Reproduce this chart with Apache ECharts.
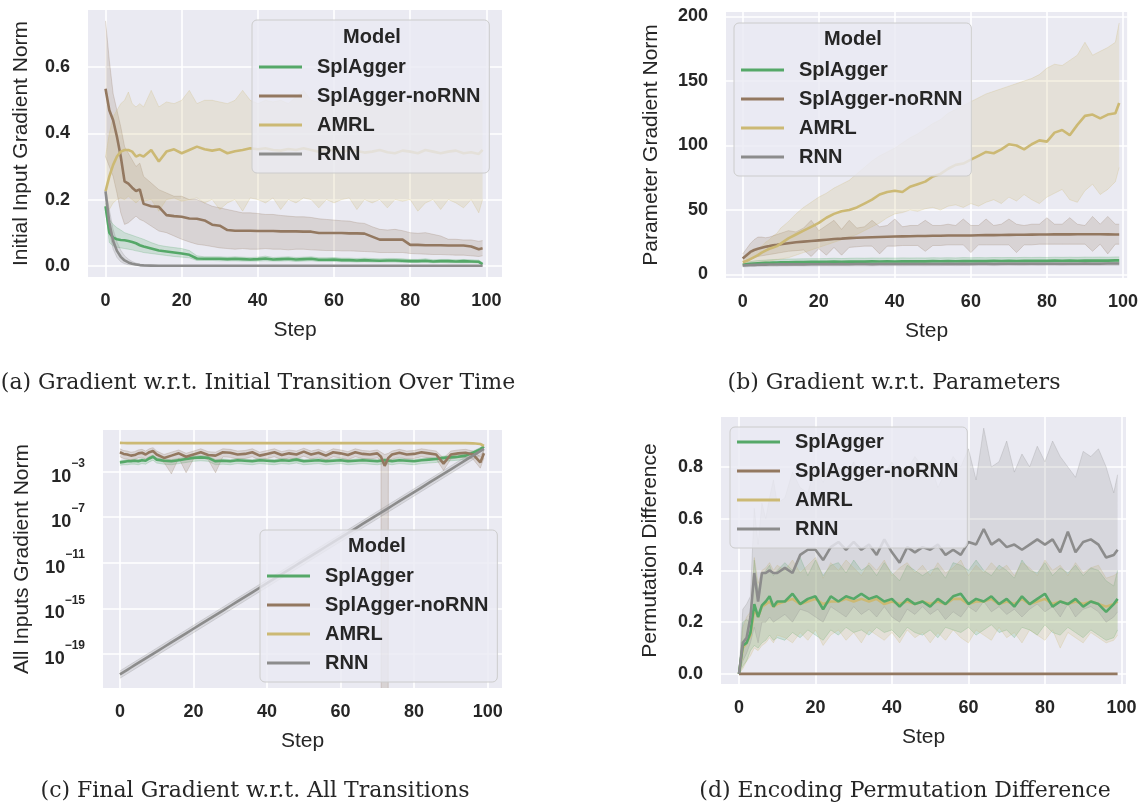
<!DOCTYPE html>
<html>
<head>
<meta charset="utf-8">
<script src="https://cdn.jsdelivr.net/npm/echarts@6/dist/echarts.min.js"></script>
<style>
  html, body { margin: 0; padding: 0; background: #fff; }
  #chart { width: 1141px; height: 805px; }
</style>
</head>
<body>
<div id="chart"></div>
<script>
// steps sampled for panels a, b, d
const steps = [0,1,2,3,4,5,6,7,8,9,10,12,14,16,18,20,22,24,26,28,30,32,34,36,38,40,42,44,46,48,50,
  52,54,56,58,60,62,64,66,68,70,72,74,76,78,80,82,84,86,88,90,92,94,96,98,99];
// panel c keeps 71 and 73 for the spike
const stepsC = [0,1,2,3,4,5,6,7,8,9,10,12,14,16,18,20,22,24,26,28,30,32,34,36,38,40,42,44,46,48,50,
  52,54,56,58,60,62,64,66,68,70,71,72,73,74,76,78,80,82,84,86,88,90,92,94,96,98,99];

const models = ['SplAgger', 'SplAgger-noRNN', 'AMRL', 'RNN'];

// (a) initial input gradient norm
const aGreen = [0.18,0.10,0.085,0.08,0.078,0.077,0.075,0.072,0.068,0.062,0.058,
  0.052,0.046,0.043,0.040,0.037,0.033,0.022,0.021,0.021,0.021,0.020,0.021,0.020,0.019,0.020,0.022,0.019,0.020,0.021,0.019,
  0.020,0.021,0.018,0.018,0.019,0.017,0.017,0.016,0.017,0.016,0.015,0.016,0.016,0.015,0.014,0.014,0.015,0.013,0.014,0.014,0.013,0.014,0.013,0.012,0.005];
const aGreenLo = [0.17,0.07,0.06,0.056,0.054,0.052,0.05,0.048,0.045,0.043,0.04,
  0.037,0.034,0.031,0.028,0.026,0.024,0.016,0.016,0.016,0.015,0.015,0.015,0.014,0.014,0.014,0.015,0.014,0.014,0.015,0.013,
  0.014,0.015,0.013,0.013,0.013,0.012,0.012,0.011,0.012,0.011,0.011,0.011,0.011,0.010,0.010,0.010,0.010,0.009,0.010,0.009,0.009,0.009,0.009,0.008,0.002];
const aGreenHi = [0.19,0.14,0.125,0.115,0.108,0.1,0.096,0.092,0.088,0.084,0.08,
  0.07,0.062,0.058,0.055,0.052,0.046,0.03,0.027,0.027,0.027,0.026,0.027,0.026,0.025,0.026,0.029,0.025,0.026,0.027,0.025,
  0.026,0.027,0.024,0.024,0.025,0.023,0.023,0.022,0.023,0.022,0.021,0.022,0.022,0.021,0.019,0.019,0.021,0.018,0.019,0.019,0.018,0.019,0.018,0.017,0.009];
const aBrown = [0.535,0.47,0.44,0.39,0.33,0.255,0.248,0.236,0.226,0.231,0.187,
  0.18,0.178,0.153,0.15,0.148,0.143,0.142,0.137,0.124,0.121,0.108,0.106,0.106,0.106,0.105,0.105,0.105,0.104,0.104,0.104,
  0.103,0.103,0.099,0.099,0.099,0.099,0.098,0.098,0.097,0.088,0.079,0.079,0.079,0.079,0.063,0.063,0.062,0.062,0.062,0.061,0.061,0.061,0.058,0.05,0.053];
const aBrownHi = [0.74,0.62,0.52,0.47,0.42,0.36,0.34,0.32,0.3,0.31,0.27,
  0.25,0.23,0.22,0.21,0.21,0.2,0.2,0.19,0.18,0.175,0.17,0.165,0.16,0.16,0.158,0.155,0.155,0.152,0.15,0.148,
  0.148,0.146,0.142,0.14,0.138,0.136,0.135,0.13,0.128,0.118,0.11,0.108,0.11,0.106,0.1,0.098,0.1,0.095,0.09,0.08,0.08,0.078,0.078,0.074,0.076];
const aBrownLo = [0.33,0.3,0.27,0.22,0.16,0.125,0.13,0.14,0.15,0.14,0.135,
  0.12,0.105,0.1,0.09,0.08,0.072,0.065,0.062,0.058,0.054,0.052,0.05,0.052,0.05,0.05,0.052,0.05,0.05,0.048,0.05,
  0.05,0.048,0.047,0.046,0.046,0.045,0.045,0.044,0.043,0.042,0.04,0.04,0.04,0.04,0.037,0.036,0.035,0.034,0.034,0.033,0.032,0.032,0.03,0.028,0.03];
const aAmrl = [0.225,0.27,0.305,0.33,0.345,0.35,0.35,0.345,0.33,0.335,0.33,
  0.35,0.315,0.345,0.352,0.34,0.35,0.36,0.352,0.348,0.352,0.34,0.346,0.35,0.355,0.352,0.355,0.35,0.348,0.353,0.35,
  0.355,0.35,0.345,0.352,0.348,0.343,0.35,0.347,0.342,0.345,0.35,0.343,0.34,0.348,0.345,0.34,0.35,0.345,0.34,0.345,0.348,0.34,0.343,0.338,0.35];
const aAmrlHi = [0.33,0.4,0.45,0.47,0.49,0.5,0.525,0.49,0.48,0.49,0.48,
  0.53,0.48,0.495,0.49,0.5,0.53,0.49,0.5,0.5,0.495,0.49,0.5,0.53,0.5,0.49,0.5,0.495,0.5,0.49,0.51,
  0.53,0.5,0.495,0.49,0.5,0.495,0.5,0.49,0.5,0.495,0.5,0.51,0.49,0.5,0.49,0.5,0.495,0.5,0.49,0.5,0.495,0.5,0.49,0.495,0.5];
const aAmrlLo = [0.16,0.17,0.19,0.2,0.205,0.2,0.21,0.2,0.19,0.2,0.195,
  0.2,0.165,0.2,0.205,0.195,0.2,0.205,0.19,0.2,0.17,0.19,0.2,0.165,0.205,0.2,0.19,0.205,0.17,0.2,0.19,
  0.205,0.2,0.175,0.2,0.19,0.2,0.205,0.17,0.2,0.19,0.2,0.175,0.2,0.195,0.2,0.165,0.19,0.2,0.17,0.2,0.19,0.175,0.2,0.16,0.2];
const aRnn = [0.225,0.13,0.075,0.045,0.027,0.016,0.01,0.006,0.004,0.002,0.001,
  0.0005,0,0,0,0,0,0,0,0,0,0,0,0,0,0,0,0,0,0,0,
  0,0,0,0,0,0,0,0,0,0,0,0,0,0,0,0,0,0,0,0,0,0,0,0,0];
const aRnnHi = [0.235,0.17,0.11,0.072,0.047,0.03,0.02,0.013,0.008,0.005,0.003,
  0.001,0,0,0,0,0,0,0,0,0,0,0,0,0,0,0,0,0,0,0,
  0,0,0,0,0,0,0,0,0,0,0,0,0,0,0,0,0,0,0,0,0,0,0,0,0];
const aRnnLo = [0.215,0.1,0.05,0.025,0.012,0.006,0.003,0.002,0.001,0,0,
  0,0,0,0,0,0,0,0,0,0,0,0,0,0,0,0,0,0,0,0,
  0,0,0,0,0,0,0,0,0,0,0,0,0,0,0,0,0,0,0,0,0,0,0,0,0];

// (b) parameter gradient norm
const bGreen = [7.5,8,8.3,8.5,8.7,8.9,9,9.1,9.2,9.3,9.4,
  9.5,9.6,9.7,9.8,9.8,9.9,10,9.9,10,10.1,10,10.2,10.1,10.2,10.1,10.3,10.2,10.3,10.2,10.4,
  10.3,10.4,10.3,10.5,10.4,10.5,10.4,10.6,10.5,10.6,10.5,10.7,10.6,10.7,10.6,10.8,10.7,10.8,10.7,10.9,10.8,10.9,10.8,11,11];
const bGreenHi = [8.5,9.5,10,10.5,10.8,11,11.2,11.4,11.6,11.7,11.8,
  12,12.1,12.2,12.3,12.3,12.4,12.6,12.4,12.6,12.7,12.6,12.8,12.7,12.8,12.7,12.9,12.8,12.9,12.8,13,
  12.9,13,12.9,13.1,13,13.1,13,13.2,13.1,13.2,13.1,13.3,13.2,13.3,13.2,13.4,13.3,13.4,13.3,13.5,13.4,13.5,13.4,13.6,13.6];
const bGreenLo = [6.5,6.6,6.8,6.9,7,7.1,7.2,7.3,7.3,7.4,7.5,
  7.5,7.6,7.7,7.7,7.8,7.8,7.9,7.8,7.9,8,7.9,8,8,8.1,8,8.1,8.1,8.2,8.1,8.2,
  8.2,8.3,8.2,8.3,8.3,8.4,8.3,8.4,8.4,8.5,8.4,8.5,8.5,8.6,8.5,8.6,8.6,8.7,8.6,8.7,8.7,8.8,8.7,8.8,8.8];
const bBrown = [12.5,15,17.5,19,20,20.8,21.5,22,22.6,23,23.5,
  24.3,25,25.5,26,26.5,27,27.5,27.8,28.2,28.5,28.7,28.9,29.1,29.3,29.5,29.6,29.7,29.8,29.9,30,
  30.1,30.2,30.2,30.3,30.3,30.4,30.5,30.5,30.6,30.7,30.8,30.8,30.9,31,31,31.1,31.1,31.1,31.2,31.2,31.2,31.2,31.1,31,31];
const bBrownHi = [16,20,24,27,29,29,28.5,29,30,31,32,
  34,33,36,42,34,38,42,35,42,36,37,42,37,38,43,37,38,38,42,38,
  38,39,38,43,38,38,43,38,39,43,39,38,39,39,44,39,39,44,39,38,45,39,45,39,39];
const bBrownLo = [10,11,12,13,14,14.5,15,15.5,16,16.5,17,
  18,18.5,19,14,20,15,21,15,21,21.5,22,22,16,22,22,22.5,22.5,22.5,18,22.5,
  22.5,23,23,23,17,23,23,23,23,23,17,23,23,23.5,23.5,23.5,23.5,23.5,23.5,23.5,18,23.5,16,23.5,23.5];
const bAmrl = [9.5,10.5,12,13.5,15,17,18.5,20,21,22,24,
  28,31,34,37,40,44,47,49,50,52,55,58,62,64,65,64,68,70,72,76,
  78,82,85,86,89,92,95,94,97,101,100,97,101,104,103,110,112,108,116,123,124,121,124,125,133];
const bAmrlHi = [13,14,16,18,20,22,25,27,30,32,36,
  41,47,52,56,60,63,67,70,73,78,83,88,92,95,98,102,106,109,113,117,
  120,125,128,131,134,137,140,142,144,146,148,150,152,155,160,163,162,166,170,180,170,173,176,180,195];
const bAmrlLo = [7,7.5,8,8.5,9,9.5,10,10.5,11,11.5,12,
  13,15,17,19,21,23,25,27,29,31,34,37,40,44,47,48,50,49,51,52,
  50,53,54,52,55,53,56,58,55,60,57,62,58,55,60,63,66,58,56,65,70,62,66,72,83];
const bRnn = [7,7.2,7.4,7.5,7.6,7.7,7.7,7.8,7.8,7.8,7.9,
  7.9,8,7.9,8,8,8.1,8,8.1,8,8.1,8.1,8,8.2,8.1,8.2,8.1,8.2,8.2,8.1,8.2,
  8.2,8.3,8.2,8.3,8.2,8.3,8.3,8.2,8.3,8.4,8.3,8.3,8.4,8.3,8.4,8.4,8.3,8.4,8.4,8.5,8.4,8.4,8.5,8.5,8.5];
const bRnnHi = [8,8.4,8.6,8.8,8.9,9,9,9.1,9.1,9.1,9.2,
  9.2,9.3,9.2,9.3,9.3,9.4,9.3,9.4,9.3,9.4,9.4,9.3,9.5,9.4,9.5,9.4,9.5,9.5,9.4,9.5,
  9.5,9.6,9.5,9.6,9.5,9.6,9.6,9.5,9.6,9.7,9.6,9.6,9.7,9.6,9.7,9.7,9.6,9.7,9.7,9.8,9.7,9.7,9.8,9.8,9.8];
const bRnnLo = [6,6,6.2,6.2,6.3,6.4,6.4,6.5,6.5,6.5,6.6,
  6.6,6.7,6.6,6.7,6.7,6.8,6.7,6.8,6.7,6.8,6.8,6.7,6.9,6.8,6.9,6.8,6.9,6.9,6.8,6.9,
  6.9,7,6.9,7,6.9,7,7,6.9,7,7.1,7,7,7.1,7,7.1,7.1,7,7.1,7.1,7.2,7.1,7.1,7.2,7.2,7.2];

// (c) all inputs gradient norm, stored as log10 exponents
const cGreen = [-2.2,-2.15,-2.1,-2.1,-2.05,-2.1,-2.0,-2.05,-1.85,-1.7,-1.95,
  -2.05,-2.1,-2.0,-1.9,-1.8,-1.75,-1.8,-2.1,-2.05,-2.1,-2.0,-2.05,-2.1,-2.0,-2.05,-2.1,-2.0,-2.05,-1.95,-2.1,
  -2.05,-2.0,-2.1,-2.05,-2.0,-2.1,-2.05,-2.0,-2.05,-2.1,
  -2.05,-2.0,-2.05,
  -2.1,-2.0,-2.05,-2.1,-2.0,-1.95,-1.9,-1.8,-1.75,-1.7,-1.6,-1.35,-1.05,-0.8];
const cGreenHi = [-2.05,-2.0,-1.95,-1.95,-1.9,-1.95,-1.85,-1.9,-1.7,-1.55,-1.8,
  -1.9,-1.95,-1.85,-1.75,-1.65,-1.6,-1.65,-1.95,-1.9,-1.95,-1.85,-1.9,-1.95,-1.85,-1.9,-1.95,-1.85,-1.9,-1.8,-1.95,
  -1.9,-1.85,-1.95,-1.9,-1.85,-1.95,-1.9,-1.85,-1.9,-1.95,
  -1.9,-1.85,-1.9,
  -1.95,-1.85,-1.9,-1.95,-1.85,-1.8,-1.75,-1.65,-1.6,-1.55,-1.45,-1.2,-0.9,-0.7];
const cGreenLo = [-2.45,-2.4,-2.4,-2.35,-2.35,-2.4,-2.3,-2.35,-2.15,-2.0,-2.25,
  -2.35,-2.4,-2.3,-2.2,-2.1,-2.05,-2.1,-2.4,-2.35,-2.4,-2.3,-2.35,-2.4,-2.3,-2.35,-2.4,-2.3,-2.35,-2.25,-2.4,
  -2.35,-2.3,-2.4,-2.35,-2.3,-2.4,-2.35,-2.3,-2.35,-2.4,
  -2.35,-2.3,-2.35,
  -2.4,-2.3,-2.35,-2.4,-2.3,-2.25,-2.2,-2.1,-2.05,-2.0,-1.9,-1.6,-1.25,-0.95];
const cBrown = [-1.3,-1.45,-1.5,-1.6,-1.55,-1.4,-1.35,-1.5,-1.3,-1.2,-1.5,
  -1.8,-1.6,-1.4,-1.7,-1.5,-1.3,-1.55,-1.6,-1.3,-1.35,-1.5,-1.45,-1.3,-1.6,-1.45,-1.3,-1.55,-1.4,-1.5,-1.25,
  -1.5,-1.35,-1.6,-1.3,-1.4,-1.55,-1.3,-1.45,-1.5,-1.4,
  -1.7,-2.5,-1.8,
  -1.5,-1.35,-1.5,-1.45,-1.3,-1.4,-1.5,-2.3,-1.5,-1.4,-1.35,-1.5,-2.2,-1.4];
const cBrownHi = [-1.0,-1.15,-1.2,-1.3,-1.25,-1.1,-1.05,-1.2,-1.0,-0.9,-1.2,
  -1.5,-1.3,-1.1,-1.4,-1.2,-1.0,-1.25,-1.3,-1.0,-1.05,-1.2,-1.15,-1.0,-1.3,-1.15,-1.0,-1.25,-1.1,-1.2,-0.95,
  -1.2,-1.05,-1.3,-1.0,-1.1,-1.25,-1.0,-1.15,-1.2,-1.1,
  -1.3,-1.5,-1.4,
  -1.2,-1.05,-1.2,-1.15,-1.0,-1.1,-1.2,-1.8,-1.2,-1.1,-1.05,-1.2,-1.7,-1.1];
// lower bound collapses to ~0 at step 72 (log goes far below the axis)
const cBrownLo = [-1.7,-1.85,-1.9,-2.0,-1.95,-1.8,-1.75,-1.9,-1.7,-1.6,-1.9,
  -2.2,-3.2,-1.8,-3.1,-1.9,-1.7,-1.95,-3.1,-1.7,-1.75,-1.9,-1.85,-1.7,-2.0,-1.85,-1.7,-1.95,-1.8,-1.9,-1.65,
  -1.9,-1.75,-2.0,-1.7,-1.8,-1.95,-1.7,-1.85,-1.9,-1.8,
  -2.0,-500,-2.1,
  -1.9,-1.75,-1.9,-1.85,-1.7,-1.8,-1.9,-2.9,-1.9,-1.8,-1.75,-1.9,-2.7,-1.8];
const cAmrl = [-0.48,-0.49,-0.5,-0.5,-0.5,-0.5,-0.5,-0.5,-0.5,-0.5,-0.5,
  -0.5,-0.5,-0.5,-0.5,-0.5,-0.5,-0.5,-0.5,-0.5,-0.5,-0.5,-0.5,-0.5,-0.5,-0.5,-0.5,-0.5,-0.5,-0.5,-0.5,
  -0.5,-0.5,-0.5,-0.5,-0.5,-0.5,-0.5,-0.5,-0.5,-0.5,
  -0.5,-0.5,-0.5,
  -0.5,-0.5,-0.5,-0.5,-0.5,-0.5,-0.5,-0.5,-0.5,-0.5,-0.5,-0.52,-0.58,-0.75];
const cRnn = [-20.8,-20.6,-20.4,-20.2,-20.0,-19.8,-19.6,-19.4,-19.2,-19.0,-18.8,
  -18.4,-18.0,-17.6,-17.2,-16.8,-16.4,-16.0,-15.6,-15.2,-14.8,-14.4,-14.0,-13.6,-13.2,-12.8,-12.4,-12.0,-11.6,-11.2,-10.8,
  -10.4,-10.0,-9.6,-9.2,-8.8,-8.4,-8.0,-7.6,-7.2,-6.8,
  -6.6,-6.4,-6.2,
  -6.0,-5.6,-5.2,-4.8,-4.4,-4.0,-3.6,-3.2,-2.8,-2.4,-2.0,-1.6,-1.2,-1.0];
const cRnnHi = [-20.5,-20.3,-20.1,-19.9,-19.7,-19.5,-19.3,-19.1,-18.9,-18.7,-18.5,
  -18.1,-17.7,-17.3,-16.9,-16.5,-16.1,-15.7,-15.3,-14.9,-14.5,-14.1,-13.7,-13.3,-12.9,-12.5,-12.1,-11.7,-11.3,-10.9,-10.5,
  -10.1,-9.7,-9.3,-8.9,-8.5,-8.1,-7.7,-7.3,-6.9,-6.5,
  -6.3,-6.1,-5.9,
  -5.7,-5.3,-4.9,-4.5,-4.1,-3.7,-3.3,-2.9,-2.5,-2.1,-1.7,-1.3,-0.9,-0.75];
const cRnnLo = [-21.15,-20.95,-20.75,-20.55,-20.35,-20.15,-19.95,-19.75,-19.55,-19.35,-19.15,
  -18.75,-18.35,-17.95,-17.55,-17.15,-16.75,-16.35,-15.95,-15.55,-15.15,-14.75,-14.35,-13.95,-13.55,-13.15,-12.75,-12.35,-11.95,-11.55,-11.15,
  -10.75,-10.35,-9.95,-9.55,-9.15,-8.75,-8.35,-7.95,-7.55,-7.15,
  -6.95,-6.75,-6.55,
  -6.35,-5.95,-5.55,-5.15,-4.75,-4.35,-3.95,-3.55,-3.15,-2.75,-2.35,-1.95,-1.55,-1.3];

// (d) permutation difference
const dGreen = [0,0.11,0.12,0.16,0.27,0.22,0.265,0.28,0.3,0.26,0.28,
  0.28,0.31,0.27,0.29,0.3,0.25,0.3,0.28,0.3,0.29,0.31,0.29,0.3,0.28,0.29,0.26,0.29,0.27,0.28,0.26,
  0.29,0.27,0.3,0.31,0.27,0.29,0.28,0.3,0.27,0.29,0.26,0.3,0.27,0.29,0.31,0.26,0.28,0.27,0.29,0.26,0.28,0.27,0.24,0.27,0.29];
const dGreenHi = [0,0.2,0.21,0.2,0.44,0.32,0.38,0.4,0.42,0.38,0.4,
  0.43,0.4,0.45,0.38,0.44,0.38,0.42,0.43,0.39,0.44,0.4,0.42,0.38,0.43,0.39,0.36,0.42,0.4,0.38,0.4,
  0.41,0.37,0.43,0.42,0.4,0.44,0.4,0.38,0.42,0.4,0.37,0.44,0.4,0.39,0.43,0.38,0.41,0.39,0.42,0.38,0.41,0.4,0.36,0.34,0.4];
const dGreenLo = [0,0.03,0.05,0.09,0.11,0.1,0.12,0.13,0.15,0.13,0.14,
  0.13,0.16,0.14,0.17,0.15,0.13,0.17,0.15,0.18,0.16,0.17,0.15,0.18,0.16,0.17,0.14,0.18,0.16,0.15,0.17,
  0.14,0.18,0.17,0.16,0.18,0.15,0.17,0.19,0.16,0.17,0.14,0.18,0.17,0.15,0.19,0.16,0.15,0.18,0.16,0.14,0.17,0.15,0.13,0.14,0.17];
const dBrown = [0,0,0,0,0,0,0,0,0,0,0,
  0,0,0,0,0,0,0,0,0,0,0,0,0,0,0,0,0,0,0,0,
  0,0,0,0,0,0,0,0,0,0,0,0,0,0,0,0,0,0,0,0,0,0,0,0,0];
const dAmrl = [0,0.1,0.12,0.15,0.25,0.22,0.26,0.27,0.28,0.26,0.27,
  0.28,0.29,0.27,0.28,0.29,0.27,0.28,0.28,0.29,0.28,0.29,0.28,0.29,0.27,0.28,0.27,0.28,0.27,0.28,0.27,
  0.28,0.27,0.29,0.29,0.27,0.28,0.28,0.29,0.27,0.28,0.27,0.29,0.27,0.28,0.29,0.27,0.28,0.27,0.28,0.27,0.28,0.27,0.26,0.27,0.28];
const dAmrlHi = [0,0.18,0.22,0.24,0.45,0.35,0.4,0.41,0.43,0.4,0.42,
  0.4,0.44,0.39,0.42,0.45,0.37,0.43,0.4,0.44,0.41,0.38,0.43,0.4,0.44,0.38,0.41,0.43,0.39,0.42,0.38,
  0.43,0.39,0.41,0.44,0.38,0.42,0.39,0.43,0.4,0.42,0.38,0.43,0.41,0.38,0.44,0.4,0.42,0.38,0.43,0.39,0.41,0.42,0.37,0.38,0.39];
const dAmrlLo = [0,0.02,0.05,0.07,0.1,0.09,0.11,0.12,0.14,0.12,0.15,
  0.14,0.12,0.16,0.13,0.17,0.11,0.15,0.17,0.13,0.16,0.12,0.17,0.15,0.13,0.16,0.12,0.17,0.14,0.16,0.12,
  0.16,0.13,0.17,0.14,0.12,0.17,0.15,0.13,0.18,0.14,0.16,0.12,0.17,0.15,0.13,0.17,0.1,0.16,0.14,0.12,0.16,0.14,0.12,0.13,0.15];
const dRnn = [0,0.12,0.14,0.22,0.39,0.28,0.39,0.39,0.4,0.39,0.39,
  0.41,0.39,0.46,0.48,0.48,0.44,0.49,0.51,0.48,0.51,0.48,0.5,0.46,0.52,0.47,0.43,0.49,0.47,0.49,0.48,
  0.5,0.46,0.48,0.46,0.51,0.5,0.56,0.5,0.52,0.49,0.5,0.48,0.5,0.52,0.5,0.52,0.47,0.55,0.47,0.51,0.52,0.5,0.45,0.46,0.48];
const dRnnHi = [0,0.25,0.27,0.3,0.64,0.5,0.66,0.6,0.68,0.75,0.66,
  0.68,0.78,0.72,0.7,0.8,0.74,0.82,0.8,0.76,0.82,0.74,0.75,0.8,0.77,0.82,0.76,0.79,0.84,0.8,0.82,
  0.72,0.78,0.84,0.8,0.87,0.75,0.95,0.8,0.82,0.9,0.78,0.85,0.8,0.88,0.82,0.9,0.84,0.8,0.76,0.86,0.84,0.87,0.8,0.7,0.77];
const dRnnLo = [0,0.05,0.08,0.12,0.18,0.12,0.2,0.2,0.22,0.2,0.21,
  0.23,0.2,0.25,0.24,0.22,0.2,0.26,0.24,0.22,0.26,0.23,0.25,0.22,0.26,0.22,0.2,0.25,0.23,0.26,0.23,
  0.25,0.21,0.24,0.22,0.26,0.24,0.28,0.24,0.26,0.23,0.25,0.22,0.25,0.27,0.24,0.26,0.22,0.27,0.22,0.25,0.26,0.24,0.2,0.22,0.24];

const colors = { 'SplAgger': '#55A868', 'SplAgger-noRNN': '#937860', 'AMRL': '#CCB974', 'RNN': '#8C8C8C' };
const FONT = '"Liberation Sans", Arial, Helvetica, sans-serif';
const SERIF = '"DejaVu Serif", "Liberation Serif", serif';
const INK = '#262626';

function rgba(hex, a) {
  const n = parseInt(hex.slice(1), 16);
  return 'rgba(' + (n >> 16) + ',' + ((n >> 8) & 255) + ',' + (n & 255) + ',' + a + ')';
}

function pts(xs, ys) {
  return xs.map((x, i) => [x, ys[i]]);
}

function meanLine(p, name, xs, ys) {
  return {
    type: 'line', name, xAxisIndex: p, yAxisIndex: p,
    data: pts(xs, ys), symbol: 'none', showSymbol: false, silent: true,
    lineStyle: { color: colors[name], width: 2.6 },
    itemStyle: { color: colors[name] }
  };
}

// confidence band drawn as one polygon (upper edge, then lower edge back)
function band(p, name, xs, lo, hi) {
  const c = colors[name];
  const rows = xs.map((x, i) => [x, lo[i], hi[i]]);
  return {
    type: 'custom', name: 'band-' + p + '-' + name, xAxisIndex: p, yAxisIndex: p,
    data: rows, encode: { x: 0, y: [1, 2] }, clip: true, silent: true,
    renderItem: (params, api) => {
      if (params.dataIndex !== 0) return null;
      const upper = rows.map(r => api.coord([r[0], r[2]]));
      const lower = rows.map(r => api.coord([r[0], r[1]]));
      const edge = { stroke: rgba(c, 0.25), lineWidth: 1, fill: 'none' };
      return {
        type: 'group',
        children: [
          { type: 'polygon', shape: { points: upper.concat(lower.slice().reverse()) }, style: { fill: rgba(c, 0.2) } },
          { type: 'polyline', shape: { points: upper }, style: edge },
          { type: 'polyline', shape: { points: lower }, style: edge }
        ]
      };
    }
  };
}

const series = [
  // (a)
  meanLine(0, 'SplAgger', steps, aGreen), band(0, 'SplAgger', steps, aGreenLo, aGreenHi),
  meanLine(0, 'SplAgger-noRNN', steps, aBrown), band(0, 'SplAgger-noRNN', steps, aBrownLo, aBrownHi),
  meanLine(0, 'AMRL', steps, aAmrl), band(0, 'AMRL', steps, aAmrlLo, aAmrlHi),
  meanLine(0, 'RNN', steps, aRnn), band(0, 'RNN', steps, aRnnLo, aRnnHi),
  // (b)
  meanLine(1, 'SplAgger', steps, bGreen), band(1, 'SplAgger', steps, bGreenLo, bGreenHi),
  meanLine(1, 'SplAgger-noRNN', steps, bBrown), band(1, 'SplAgger-noRNN', steps, bBrownLo, bBrownHi),
  meanLine(1, 'AMRL', steps, bAmrl), band(1, 'AMRL', steps, bAmrlLo, bAmrlHi),
  meanLine(1, 'RNN', steps, bRnn), band(1, 'RNN', steps, bRnnLo, bRnnHi),
  // (c)
  meanLine(2, 'SplAgger', stepsC, cGreen), band(2, 'SplAgger', stepsC, cGreenLo, cGreenHi),
  meanLine(2, 'SplAgger-noRNN', stepsC, cBrown), band(2, 'SplAgger-noRNN', stepsC, cBrownLo, cBrownHi),
  meanLine(2, 'AMRL', stepsC, cAmrl),
  meanLine(2, 'RNN', stepsC, cRnn), band(2, 'RNN', stepsC, cRnnLo, cRnnHi),
  // (d)
  meanLine(3, 'AMRL', steps, dAmrl),
  meanLine(3, 'SplAgger', steps, dGreen), band(3, 'SplAgger', steps, dGreenLo, dGreenHi),
  meanLine(3, 'SplAgger-noRNN', steps, dBrown),
  band(3, 'AMRL', steps, dAmrlLo, dAmrlHi),
  meanLine(3, 'RNN', steps, dRnn), band(3, 'RNN', steps, dRnnLo, dRnnHi)
];

const xTicks = [0, 20, 40, 60, 80, 100];
const tickFont = { fontFamily: FONT, fontSize: 18, fontWeight: 'bold', color: INK };
const nameFont = { fontFamily: FONT, fontSize: 21, color: INK };
const grid = [
  { left: 88, top: 10, width: 414, height: 267 },
  { left: 726, top: 12, width: 404, height: 266 },
  { left: 103, top: 430, width: 399, height: 258 },
  { left: 721, top: 417, width: 405, height: 267 }
].map(g => Object.assign({ show: true, backgroundColor: '#EAEAF2', borderWidth: 0 }, g));

function xAxis(i, min, max) {
  return {
    type: 'value', gridIndex: i, min, max,
    name: 'Step', nameLocation: 'middle', nameGap: 43, nameTextStyle: nameFont,
    axisLine: { show: false }, axisTick: { show: false, customValues: xTicks },
    axisLabel: Object.assign({ customValues: xTicks, margin: 15 }, tickFont),
    splitLine: { show: true, lineStyle: { color: '#ffffff', width: 1.6 } }
  };
}

function yAxis(i, min, max, ticks, name, gap, fmt) {
  return {
    type: 'value', gridIndex: i, min, max,
    name, nameLocation: 'middle', nameGap: gap, nameTextStyle: nameFont,
    axisLine: { show: false }, axisTick: { show: false, customValues: ticks },
    axisLabel: Object.assign({ customValues: ticks, margin: 18, formatter: fmt }, tickFont),
    splitLine: { show: true, lineStyle: { color: '#ffffff', width: 1.6 } }
  };
}

const yLog = yAxis(2, -22.0, 0.65, [-19, -15, -11, -7, -3], 'All Inputs Gradient Norm', 70,
  v => '{b|10}{s|\u2212' + Math.abs(v) + '}');
yLog.axisLabel.rich = {
  b: { fontFamily: FONT, fontSize: 18, fontWeight: 'bold', color: INK, padding: [10, 0, 0, 0] },
  s: { fontFamily: FONT, fontSize: 12, fontWeight: 'bold', color: INK, verticalAlign: 'top' }
};

function legendAt(left, top, padTop) {
  return {
    orient: 'vertical', left, top, data: models, selectedMode: false,
    icon: 'rect', itemWidth: 43, itemHeight: 3, itemGap: 9,
    padding: [padTop, 9, 9, 7],
    backgroundColor: 'rgba(234,234,242,0.8)', borderColor: '#cccccc', borderWidth: 1, borderRadius: 5,
    textStyle: { fontFamily: FONT, fontSize: 20, fontWeight: 'bold', color: INK, lineHeight: 20, padding: [0, 0, 0, 10] }
  };
}

function label(x, y, text, font) {
  return { type: 'text', x, y, z: 100, silent: true,
    style: { text, font, fill: INK, textAlign: 'center', textVerticalAlign: 'middle', align: 'center', verticalAlign: 'middle' } };
}

const option = {
  animation: false,
  grid,
  xAxis: [xAxis(0, -4.6, 104.1), xAxis(1, -4.4, 101.1), xAxis(2, -4.6, 103.9), xAxis(3, -4.7, 101.2)],
  yAxis: [
    yAxis(0, -0.034, 0.773, [0, 0.2, 0.4, 0.6], 'Initial Input Gradient Norm', 56, v => v.toFixed(1)),
    yAxis(1, -2.7, 203.5, [0, 50, 100, 150, 200], 'Parameter Gradient Norm', 64, v => String(v)),
    yLog,
    yAxis(3, -0.039, 0.993, [0, 0.2, 0.4, 0.6, 0.8], 'Permutation Difference', 60, v => v.toFixed(1))
  ],
  legend: [legendAt(252, 20, 37), legendAt(734, 23, 37), legendAt(260, 530, 36), legendAt(730, 427, 5)],
  graphic: [
    label(372, 37, 'Model', 'bold 20px ' + FONT),
    label(853, 39, 'Model', 'bold 20px ' + FONT),
    label(377, 546, 'Model', 'bold 20px ' + FONT),
    label(258, 383, '(a) Gradient w.r.t. Initial Transition Over Time', '22px ' + SERIF),
    label(894, 383, '(b) Gradient w.r.t. Parameters', '22px ' + SERIF),
    label(255, 791, '(c) Final Gradient w.r.t. All Transitions', '22px ' + SERIF),
    label(905, 791, '(d) Encoding Permutation Difference', '22px ' + SERIF)
  ],
  series
};

const chart = echarts.init(document.getElementById('chart'));
chart.setOption(option);
</script>
</body>
</html>
